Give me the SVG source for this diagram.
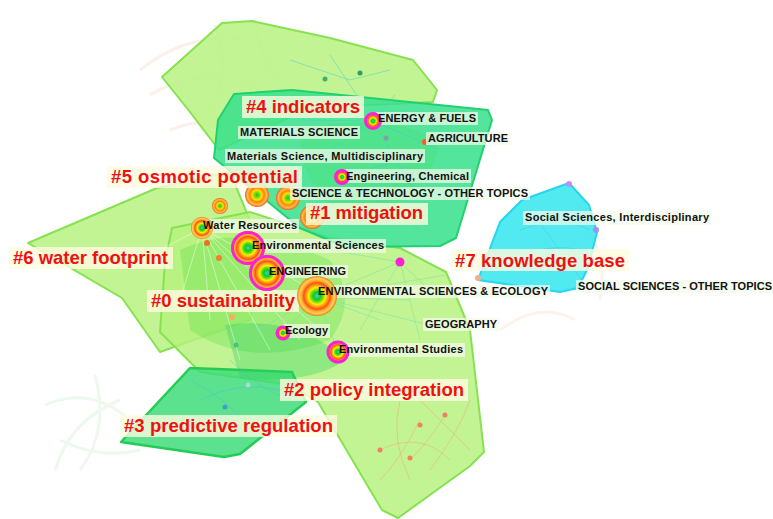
<svg xmlns="http://www.w3.org/2000/svg" width="773" height="519" viewBox="0 0 773 519">
<style>
.hl{fill:#b6f27c;fill-opacity:.82;stroke:#86e250;stroke-width:2;stroke-linejoin:round}
.ht{fill:#36e08c;fill-opacity:.85;stroke:#22d070;stroke-width:2;stroke-linejoin:round}
.hd{fill:#3fdc7a;fill-opacity:.85;stroke:#22cc55;stroke-width:2.5;stroke-linejoin:round}
.hc{fill:#3ee8f0;fill-opacity:.9;stroke:#26d6ee;stroke-width:2;stroke-linejoin:round}
.e{fill:none;stroke-width:1}
.eg{stroke:#7fe0a0;stroke-opacity:.55}
.ew{stroke:#ffffff;stroke-opacity:.45}
.eo{stroke:#f0a070;stroke-opacity:.45}
.eb{stroke:#40c8d0;stroke-opacity:.45}
.faint{fill:none;stroke-width:3;stroke-opacity:.12}
.rl{font-family:"Liberation Sans",Arial,sans-serif;font-weight:bold;font-size:18.5px;fill:#f01010}
.bl{font-family:"Liberation Sans",Arial,sans-serif;font-weight:bold;font-size:11px;fill:#111111}
.rb{fill:#fffbe0;fill-opacity:.8}
.bb{fill:#f4fbea;fill-opacity:.72}
.mag{fill:none;stroke:#ff20d0;stroke-width:3}
.dot{stroke:none}
</style>
<defs>
<radialGradient id="ring">
<stop offset="0" stop-color="#30d0ff"/>
<stop offset="0.18" stop-color="#10cc10"/>
<stop offset="0.32" stop-color="#80e010"/>
<stop offset="0.42" stop-color="#ffee00"/>
<stop offset="0.55" stop-color="#ff9a10"/>
<stop offset="0.66" stop-color="#ff5020"/>
<stop offset="0.78" stop-color="#ffb030"/>
<stop offset="0.88" stop-color="#ffd050"/>
<stop offset="1" stop-color="#f07a20"/>
</radialGradient>
<radialGradient id="ring2">
<stop offset="0" stop-color="#20c020"/>
<stop offset="0.25" stop-color="#80e010"/>
<stop offset="0.4" stop-color="#ffe000"/>
<stop offset="0.6" stop-color="#ff8010"/>
<stop offset="0.8" stop-color="#ffc040"/>
<stop offset="1" stop-color="#f06020"/>
</radialGradient>
</defs>

<rect width="773" height="519" fill="#ffffff"/>

<g id="faint-background">
<path class="faint" stroke="#f08040" d="M140 70 Q190 30 250 40 M150 95 Q210 60 270 95 M215 25 Q235 80 200 130 M255 30 Q270 80 300 110 M170 130 Q220 110 260 140"/>
<path class="faint" stroke="#60d060" d="M55 470 Q70 420 120 400 M60 440 Q100 460 140 450 M45 405 Q90 385 130 420 M95 375 Q110 430 80 470"/>
<path class="faint" stroke="#f0a060" d="M575 215 Q610 250 600 300 M500 330 Q540 300 575 320"/>
</g>

<g id="clusters">
<polygon id="hull-top" class="hl" points="162,77 222,23 252,21 330,38 413,60 437,90 433,102 310,108 219,150 190,112"/>
<polygon id="hull-left" class="hl" points="28,243 157,188 230,172 262,250 250,320 160,352 122,298"/>
<polygon id="hull-center" class="hl" points="172,228 250,212 330,238 400,248 446,272 470,330 484,452 470,466 398,518 382,510 318,402 290,385 200,372 160,332 165,262"/>
<polygon id="hull-teal" class="ht" points="234,94 292,90 488,110 492,120 456,238 440,246 345,247 300,228 214,158 218,120"/>
<polygon id="hull-dark" class="hd" points="121,442 190,368 292,372 306,402 240,454 224,457"/>
<polygon id="hull-cyan" class="hc" points="478,280 500,222 522,200 569,183 589,205 597,232 588,268 578,288 560,292"/>
<path d="M180 250 Q240 220 330 260 Q360 300 330 340 Q250 370 190 330 Z" fill="#5fe04a" fill-opacity=".35"/>
<path d="M300 130 Q380 110 440 140 Q430 200 360 220 Q300 200 300 130 Z" fill="#40e060" fill-opacity=".25"/>
<path d="M225 325 Q300 315 345 360 Q310 385 240 378 Z" fill="#30d060" fill-opacity=".35"/>
</g>

<g id="connectors">
<path class="e eg" d="M317 297 L400 262 M317 297 L248 248 M317 297 L338 352 M317 297 L283 333 M317 297 L425 324 M317 297 L445 275 M317 297 L380 320 M317 297 L240 340 M317 297 L410 300 M400 262 L440 300 M400 262 L360 330 M400 262 L420 340 M400 262 L330 250"/>
<path class="e ew" d="M202 228 L320 330 M202 228 L300 340 M202 228 L270 350 M202 228 L240 360 M202 228 L330 300 M202 228 L180 300 M202 228 L210 320 M202 228 L160 250"/>
<path class="e eb" d="M373 121 L440 150 M373 121 L330 150 M373 121 L420 200 M373 121 L300 120 M342 177 L400 160 M342 177 L420 230 M373 121 L395 95 M290 60 L350 80 L390 70 M330 55 L360 100"/>
<path class="e eo" d="M410 390 Q440 420 470 450 M420 420 Q400 460 380 480 M445 415 Q430 440 410 460 M380 450 Q420 430 450 460 M400 400 Q390 440 410 480 M430 470 Q460 430 470 400"/>
<path class="e eb" d="M190 380 Q230 400 250 430 M230 360 Q260 390 290 400 M200 400 Q240 380 280 390 M530 210 Q560 250 585 285 M520 230 Q560 215 590 230 M500 270 Q540 240 580 250"/>
</g>

<g id="small-nodes">
<circle class="dot" cx="207" cy="243" r="3" fill="#f07020"/>
<circle class="dot" cx="219" cy="258" r="3" fill="#f08030"/>
<circle class="dot" cx="425" cy="142" r="3" fill="#f06030"/>
<circle class="dot" cx="340" cy="156" r="2.5" fill="#f0a060"/>
<circle class="dot" cx="386" cy="138" r="2.5" fill="#80a0a0"/>
<circle class="dot" cx="325" cy="79" r="2.5" fill="#40b070"/>
<circle class="dot" cx="360" cy="73" r="2.5" fill="#30a060"/>
<circle class="dot" cx="410" cy="390" r="3" fill="#f08060"/>
<circle class="dot" cx="445" cy="415" r="2.5" fill="#f08060"/>
<circle class="dot" cx="420" cy="425" r="2.5" fill="#f08060"/>
<circle class="dot" cx="380" cy="450" r="2.5" fill="#f08060"/>
<circle class="dot" cx="410" cy="458" r="2.5" fill="#f08060"/>
<circle class="dot" cx="569" cy="184" r="3" fill="#c090f0"/>
<circle class="dot" cx="596" cy="230" r="3" fill="#a090f0"/>
<circle class="dot" cx="478" cy="278" r="3" fill="#f0b090"/>
<circle class="dot" cx="232" cy="317" r="3" fill="#f0b060"/>
<circle class="dot" cx="236" cy="345" r="2.5" fill="#50c080"/>
<circle class="dot" cx="248" cy="385" r="2.5" fill="#a0e0d0"/>
<circle class="dot" cx="225" cy="407" r="2.5" fill="#40a0c0"/>
</g>

<g id="node-n5a"><circle cx="220" cy="206" r="8" fill="url(#ring2)"/></g>
<g id="node-n5b"><circle cx="257" cy="195" r="12" fill="url(#ring2)"/></g>
<g id="node-n5c"><circle cx="288" cy="198" r="12" fill="url(#ring2)"/></g>
<g id="node-n1"><circle cx="312" cy="217" r="12" fill="url(#ring2)"/></g>

<g id="cluster-labels-back">
<rect class="rb" x="242" y="96" width="122" height="22"/>
<rect class="rb" x="107" y="166" width="195" height="22"/>
<rect class="rb" x="306" y="203" width="122" height="22"/>
<rect class="rb" x="9" y="247" width="164" height="22"/>
<rect class="rb" x="147" y="290" width="152" height="22"/>
<rect class="rb" x="451" y="249" width="178" height="22"/>
<rect class="rb" x="280" y="379" width="188" height="22"/>
<rect class="rb" x="120" y="415" width="217" height="22"/>
</g>

<g id="node-energy">
<rect class="bb" x="376" y="112" width="102" height="13"/>
<circle cx="373" cy="121" r="8" fill="url(#ring)"/><circle class="mag" cx="373" cy="121" r="7.5"/>
<text class="bl" x="378" y="122" textLength="98">ENERGY &amp; FUELS</text>
</g>
<g id="node-materials">
<rect class="bb" x="238" y="126" width="122" height="13"/>
<text class="bl" x="240" y="136" textLength="118">MATERIALS SCIENCE</text>
</g>
<g id="node-agriculture">
<rect class="bb" x="426" y="132" width="84" height="13"/>
<text class="bl" x="428" y="142" textLength="80">AGRICULTURE</text>
</g>
<g id="node-matmulti">
<rect class="bb" x="225" y="149" width="200" height="14"/>
<text class="bl" x="227" y="160" textLength="196">Materials Science, Multidisciplinary</text>
</g>
<g id="node-engchem">
<rect class="bb" x="344" y="169" width="127" height="14"/>
<circle cx="342" cy="177" r="7" fill="url(#ring)"/><circle class="mag" cx="342" cy="177" r="6.5"/>
<text class="bl" x="346" y="180" textLength="123">Engineering, Chemical</text>
</g>
<g id="node-scitech">
<rect class="bb" x="290" y="187" width="240" height="13"/>
<text class="bl" x="292" y="197" textLength="236">SCIENCE &amp; TECHNOLOGY - OTHER TOPICS</text>
</g>
<g id="node-water">
<rect class="bb" x="201" y="219" width="98" height="14"/>
<circle cx="202" cy="228" r="11" fill="url(#ring)"/>
<text class="bl" x="203" y="229" textLength="94">Water Resources</text>
</g>
<g id="node-envsci">
<rect class="bb" x="250" y="239" width="136" height="14"/>
<circle cx="248" cy="248" r="17" fill="url(#ring)"/><circle class="mag" cx="248" cy="248" r="15.5"/>
<text class="bl" x="252" y="249" textLength="132">Environmental Sciences</text>
</g>
<g id="node-engineering">
<rect class="bb" x="267" y="265" width="81" height="13"/>
<circle cx="267" cy="273" r="18" fill="url(#ring)"/><circle class="mag" cx="267" cy="273" r="16.5"/>
<text class="bl" x="269" y="275" textLength="77">ENGINEERING</text>
</g>
<g id="node-envecol">
<rect class="bb" x="316" y="285" width="234" height="13"/>
<circle cx="317" cy="296" r="20" fill="url(#ring)"/>
<text class="bl" x="318" y="295" textLength="230">ENVIRONMENTAL SCIENCES &amp; ECOLOGY</text>
</g>
<g id="node-magdot"><circle cx="400" cy="262" r="4.5" fill="#ff20d0"/></g>
<g id="node-geography">
<rect class="bb" x="423" y="318" width="76" height="13"/>
<text class="bl" x="425" y="328" textLength="72">GEOGRAPHY</text>
</g>
<g id="node-ecology">
<rect class="bb" x="283" y="324" width="47" height="14"/>
<circle cx="283" cy="333" r="7" fill="url(#ring)"/><circle class="mag" cx="283" cy="333" r="6"/>
<text class="bl" x="285" y="334" textLength="43">Ecology</text>
</g>
<g id="node-envstudies">
<rect class="bb" x="337" y="343" width="128" height="14"/>
<circle cx="338" cy="352" r="11" fill="url(#ring)"/><circle class="mag" cx="338" cy="352" r="10"/>
<text class="bl" x="339" y="353" textLength="124">Environmental Studies</text>
</g>
<g id="node-socinter">
<rect class="bb" x="523" y="211" width="188" height="14"/>
<text class="bl" x="525" y="221" textLength="184">Social Sciences, Interdisciplinary</text>
</g>
<g id="node-socother">
<rect class="bb" x="576" y="280" width="197" height="13"/>
<text class="bl" x="578" y="290" textLength="194">SOCIAL SCIENCES - OTHER TOPICS</text>
</g>

<g id="cluster-labels">
<text class="rl" x="246" y="113" textLength="114">#4 indicators</text>
<text class="rl" x="111" y="183" textLength="187">#5 osmotic potential</text>
<text class="rl" x="310" y="219" textLength="113">#1 mitigation</text>
<text class="rl" x="13" y="264" textLength="155">#6 water footprint</text>
<text class="rl" x="151" y="307" textLength="144">#0 sustainability</text>
<text class="rl" x="455" y="267" textLength="170">#7 knowledge base</text>
<text class="rl" x="284" y="396" textLength="180">#2 policy integration</text>
<text class="rl" x="124" y="432" textLength="209">#3 predictive regulation</text>
</g>
</svg>
